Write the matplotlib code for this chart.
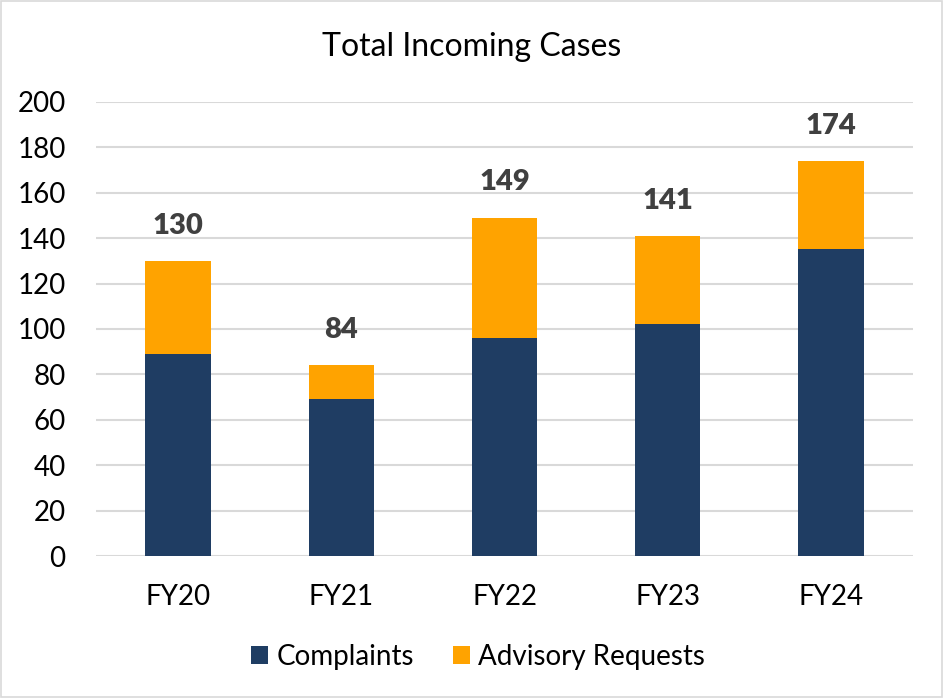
import matplotlib
matplotlib.use("Agg")
import matplotlib.pyplot as plt
import numpy as np

years = ["FY20", "FY21", "FY22", "FY23", "FY24"]
complaints = [89, 69, 96, 102, 135]
totals = [130, 84, 149, 141, 174]
advisory = [t - c for t, c in zip(totals, complaints)]

NAVY = "#1F3D63"
ORANGE = "#FFA300"

plt.rcParams["font.family"] = ["Lato", "DejaVu Sans"]

fig = plt.figure(figsize=(9.43, 6.98), dpi=100)
ax = fig.add_axes([0.102, 0.2034, 0.866, 0.6506])

x = np.arange(len(years))
w = 0.4
ax.bar(x, complaints, w, color=NAVY, label="Complaints", zorder=3)
ax.bar(x, advisory, w, bottom=complaints, color=ORANGE,
       label="Advisory Requests", zorder=3)

for xi, t in zip(x, totals):
    ax.annotate(str(t), (xi, t), xytext=(0, 16), textcoords="offset points",
                ha="center", va="bottom", fontsize=21, fontweight="heavy",
                color="#404040")

ax.set_ylim(0, 200)
ax.set_xlim(-0.5, len(years) - 0.5)
ax.set_yticks(range(0, 201, 20))
ax.set_xticks(x)
ax.set_xticklabels(years)
ax.tick_params(axis="both", length=0, labelsize=20, colors="black")
ax.tick_params(axis="x", pad=20)
ax.tick_params(axis="y", pad=22)
ax.grid(axis="y", color="#D9D9D9", linewidth=1.5, zorder=0)
for s in ax.spines.values():
    s.set_visible(False)

fig.text(0.5, 0.932, "Total Incoming Cases", ha="center", va="center",
         fontsize=23)

ax.legend(loc="center", bbox_to_anchor=(0.507, 0.059), bbox_transform=fig.transFigure,
          ncol=2, frameon=False, fontsize=20, handlelength=0.6, handleheight=0.6,
          handletextpad=0.3, columnspacing=1.4)

fig.patches.append(plt.Rectangle((0.001, 0.001), 0.998, 0.998, transform=fig.transFigure,
                                 fill=False, edgecolor="#D9D9D9", linewidth=1.2))

fig.savefig("out.png", dpi=100)
